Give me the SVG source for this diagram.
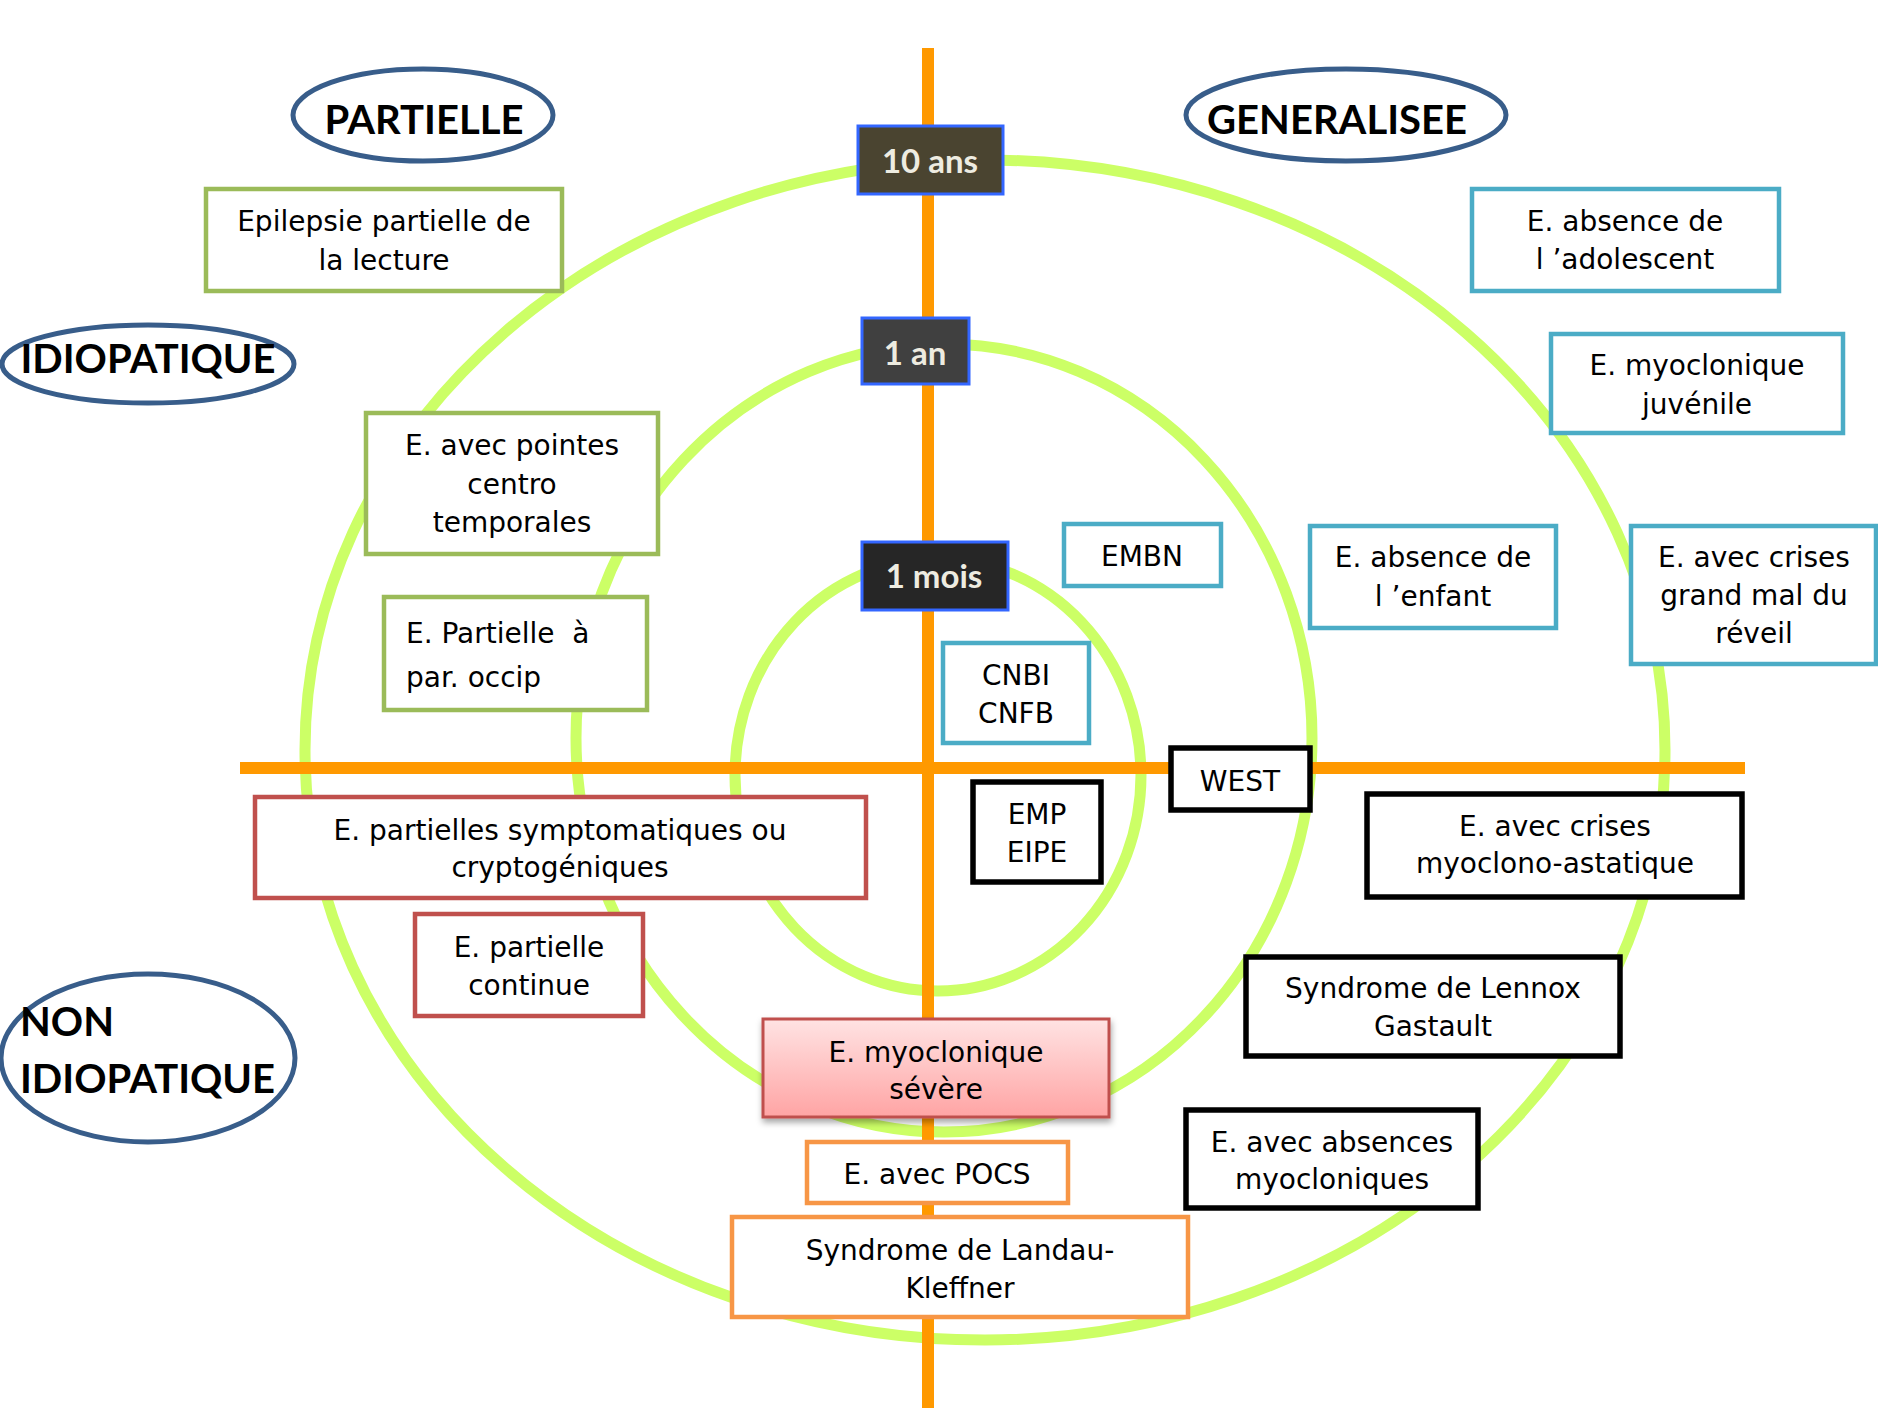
<svg xmlns="http://www.w3.org/2000/svg" width="1878" height="1408" viewBox="0 0 1878 1408">
<defs>
<style>
.bx{fill:#fff;stroke-width:4.5}
.g{stroke:#9BBB59}.b{stroke:#4BACC6}.r{stroke:#C0504D}.o{stroke:#F79646}.k{stroke:#000;stroke-width:5.5}
.t{font-family:"DejaVu Sans",Verdana,sans-serif;font-size:28px;fill:#000;text-anchor:middle}
.tl{font-family:"DejaVu Sans",Verdana,sans-serif;font-size:28px;fill:#000}
.age{stroke:#3366FF;stroke-width:3}
.at{font-family:Lato,"Liberation Sans",sans-serif;font-weight:700;font-size:33px;fill:#EEECE1;text-anchor:middle}
.el{fill:#fff;stroke:#385D8A;stroke-width:5}
.hd{font-family:Lato,"Liberation Sans",sans-serif;font-weight:700;font-size:40px;fill:#000}
.ring{fill:none;stroke:#CCFF66;stroke-width:11}
.axis{stroke:#FF9900;stroke-width:12}
</style>
<linearGradient id="pink" x1="0" y1="0" x2="0" y2="1">
<stop offset="0" stop-color="#FFE3E3"/>
<stop offset="1" stop-color="#FFA4A4"/>
</linearGradient>
<filter id="sh" x="-10%" y="-20%" width="120%" height="150%">
<feDropShadow dx="1" dy="4" stdDeviation="3" flood-color="#000" flood-opacity="0.35"/>
</filter>
</defs>
<rect width="1878" height="1408" fill="#fff"/>
<g id="connectors">
<ellipse class="ring" cx="985" cy="750" rx="680" ry="590"/>
<ellipse class="ring" cx="944" cy="738" rx="368" ry="394"/>
<ellipse class="ring" cx="938" cy="775" rx="203" ry="216"/>
<line class="axis" x1="240" y1="768" x2="1745" y2="768"/>
<line class="axis" x1="928" y1="48" x2="928" y2="1408"/>
</g>
<g id="partielle"><ellipse class="el" cx="423" cy="115" rx="130" ry="46"/><text class="hd" x="424" y="134" text-anchor="middle" font-size="39">PARTIELLE</text></g>
<g id="generalisee"><ellipse class="el" cx="1346" cy="115" rx="160" ry="46"/><text class="hd" x="1337" y="134" text-anchor="middle" font-size="39">GENERALISEE</text></g>
<g id="idiopatique"><ellipse class="el" cx="148" cy="364" rx="146" ry="39"/><text class="hd" x="148" y="373" text-anchor="middle" font-size="41">IDIOPATIQUE</text></g>
<g id="non-idiopatique"><ellipse class="el" cx="148" cy="1058" rx="147" ry="84"/><text class="hd" x="20" y="1036">NON</text><text class="hd" x="20" y="1093">IDIOPATIQUE</text></g>
<g id="age-10ans"><rect class="age" x="858" y="126" width="145" height="68" fill="#4A4430"/><text class="at" x="930" y="173">10 ans</text></g>
<g id="age-1an"><rect class="age" x="862" y="318" width="107" height="66" fill="#404040"/><text class="at" x="915" y="365">1 an</text></g>
<g id="age-1mois"><rect class="age" x="862" y="542" width="146" height="68" fill="#262626"/><text class="at" x="934" y="588">1 mois</text></g>
<g id="n-lecture"><rect class="bx g" x="206" y="189" width="356" height="102"/><text class="t" x="384" y="231">Epilepsie partielle de</text><text class="t" x="384" y="270">la lecture</text></g>
<g id="n-pointes"><rect class="bx g" x="366" y="413" width="292" height="141"/><text class="t" x="512" y="455">E. avec pointes</text><text class="t" x="512" y="494">centro</text><text class="t" x="512" y="532">temporales</text></g>
<g id="n-occip"><rect class="bx g" x="384" y="597" width="263" height="113"/><text class="tl" x="406" y="643" xml:space="preserve">E. Partielle  à</text><text class="tl" x="406" y="687">par. occip</text></g>
<g id="n-symptomatiques"><rect class="bx r" x="255" y="797" width="611" height="101"/><text class="t" x="560" y="840">E. partielles symptomatiques ou</text><text class="t" x="560" y="877">cryptogéniques</text></g>
<g id="n-continue"><rect class="bx r" x="415" y="914" width="228" height="102"/><text class="t" x="529" y="957">E. partielle</text><text class="t" x="529" y="995">continue</text></g>
<g id="n-severe"><rect x="763" y="1019" width="346" height="98" fill="url(#pink)" stroke="#C0504D" stroke-width="3" filter="url(#sh)"/><text class="t" x="936" y="1062">E. myoclonique</text><text class="t" x="936" y="1099">sévère</text></g>
<g id="n-pocs"><rect class="bx o" x="807" y="1142" width="261" height="61"/><text class="t" x="937" y="1184">E. avec POCS</text></g>
<g id="n-landau"><rect class="bx o" x="732" y="1217" width="456" height="100"/><text class="t" x="960" y="1260">Syndrome de Landau-</text><text class="t" x="960" y="1298">Kleffner</text></g>
<g id="n-adolescent"><rect class="bx b" x="1472" y="189" width="307" height="102"/><text class="t" x="1625" y="231">E. absence de</text><text class="t" x="1625" y="269">l ’adolescent</text></g>
<g id="n-juvenile"><rect class="bx b" x="1551" y="334" width="292" height="99"/><text class="t" x="1697" y="375">E. myoclonique</text><text class="t" x="1697" y="414">juvénile</text></g>
<g id="n-embn"><rect class="bx b" x="1064" y="524" width="157" height="62"/><text class="t" x="1142" y="566">EMBN</text></g>
<g id="n-enfant"><rect class="bx b" x="1310" y="526" width="246" height="102"/><text class="t" x="1433" y="567">E. absence de</text><text class="t" x="1433" y="606">l ’enfant</text></g>
<g id="n-reveil"><rect class="bx b" x="1631" y="526" width="245" height="138"/><text class="t" x="1754" y="567">E. avec crises</text><text class="t" x="1754" y="605">grand mal du</text><text class="t" x="1754" y="643">réveil</text></g>
<g id="n-cnbi"><rect class="bx b" x="943" y="643" width="146" height="100"/><text class="t" x="1016" y="685">CNBI</text><text class="t" x="1016" y="723">CNFB</text></g>
<g id="n-emp"><rect class="bx k" x="973" y="782" width="128" height="100"/><text class="t" x="1037" y="824">EMP</text><text class="t" x="1037" y="862">EIPE</text></g>
<g id="n-west"><rect class="bx k" x="1171" y="748" width="139" height="62"/><text class="t" x="1240" y="791">WEST</text></g>
<g id="n-astatique"><rect class="bx k" x="1367" y="794" width="375" height="103"/><text class="t" x="1555" y="836">E. avec crises</text><text class="t" x="1555" y="873">myoclono-astatique</text></g>
<g id="n-lennox"><rect class="bx k" x="1246" y="957" width="374" height="99"/><text class="t" x="1433" y="998">Syndrome de Lennox</text><text class="t" x="1433" y="1036">Gastault</text></g>
<g id="n-absences"><rect class="bx k" x="1186" y="1110" width="292" height="98"/><text class="t" x="1332" y="1152">E. avec absences</text><text class="t" x="1332" y="1189">myocloniques</text></g>
</svg>
